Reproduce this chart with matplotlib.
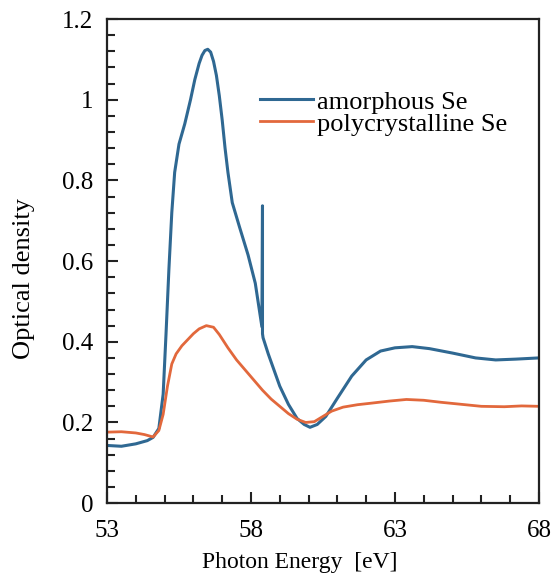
import matplotlib.pyplot as plt
from matplotlib.ticker import MultipleLocator

plt.rcParams["font.family"] = ["Liberation Serif", "DejaVu Serif"]

# amorphous Se
amor_x = [53.0, 53.5, 54.0, 54.4, 54.6, 54.8, 54.95, 55.05, 55.15, 55.25, 55.35, 55.5,
          55.7, 55.9, 56.05, 56.2, 56.3, 56.4, 56.5, 56.6, 56.7, 56.8, 56.9, 57.0,
          57.1, 57.2, 57.35, 57.6, 57.9, 58.15, 58.38, 58.40, 58.40, 58.42, 58.6, 58.8,
          59.0, 59.3, 59.6, 59.85, 60.05, 60.3, 60.6, 61.0, 61.5, 62.0, 62.5, 63.0,
          63.6, 64.2, 65.0, 65.8, 66.5, 67.2, 68.0]
amor_y = [0.143, 0.141, 0.147, 0.155, 0.163, 0.185, 0.27, 0.42, 0.58, 0.72, 0.82, 0.89,
          0.94, 1.0, 1.05, 1.09, 1.11, 1.122, 1.125, 1.118, 1.095, 1.06, 1.01, 0.95,
          0.88, 0.82, 0.745, 0.685, 0.615, 0.545, 0.437, 0.737, 0.42, 0.41, 0.37, 0.33,
          0.29, 0.245, 0.21, 0.195, 0.188, 0.195, 0.215, 0.26, 0.315, 0.355, 0.377, 0.385,
          0.388, 0.383, 0.372, 0.36, 0.355, 0.357, 0.36]

# polycrystalline Se
poly_x = [53.0, 53.5, 54.0, 54.3, 54.6, 54.8, 54.95, 55.1, 55.25, 55.4, 55.6, 55.8,
          56.0, 56.2, 56.45, 56.7, 56.9, 57.2, 57.5, 57.8, 58.1, 58.4, 58.7, 59.0,
          59.3, 59.6, 59.9, 60.2, 60.5, 60.8, 61.2, 61.7, 62.2, 62.8, 63.4, 64.0,
          64.6, 65.3, 66.0, 66.8, 67.4, 68.0]
poly_y = [0.176, 0.177, 0.174, 0.17, 0.164, 0.18, 0.22, 0.29, 0.345, 0.37, 0.39, 0.405,
          0.42, 0.432, 0.44, 0.436, 0.418, 0.385, 0.355, 0.33, 0.305, 0.28, 0.258, 0.24,
          0.222, 0.208, 0.2, 0.202, 0.215, 0.228, 0.238, 0.244, 0.248, 0.253, 0.257, 0.255,
          0.25, 0.245, 0.24, 0.239, 0.241, 0.24]

fig = plt.figure(figsize=(5.53, 5.77), dpi=100)
ax = fig.add_axes([0.1935, 0.128, 0.781, 0.839])

ax.plot(amor_x, amor_y, color="#2f6892", lw=2.2, label="amorphous Se")
ax.plot(poly_x, poly_y, color="#e2683c", lw=2.0, label="polycrystalline Se")

ax.set_xlim(53, 68)
ax.set_ylim(0, 1.2)
ax.set_xticks([53, 58, 63, 68])
ax.set_yticks([0, 0.2, 0.4, 0.6, 0.8, 1.0, 1.2])
ax.set_yticklabels(["0", "0.2", "0.4", "0.6", "0.8", "1", "1.2"])
ax.xaxis.set_minor_locator(MultipleLocator(1))
ax.yaxis.set_minor_locator(MultipleLocator(0.04))
ax.tick_params(which="both", direction="in", top=False, right=False,
               labelsize=18, width=1.5, color="#222222")
ax.tick_params(which="major", length=8)
ax.tick_params(which="minor", length=6)
ax.tick_params(axis="x", which="major", pad=12)
ax.tick_params(axis="y", which="major", pad=10)
for s in ax.spines.values():
    s.set_linewidth(1.6)
    s.set_color("#222222")

ax.set_xlabel("Photon Energy  [eV]", fontsize=17, va="center")
ax.set_ylabel("Optical density", fontsize=19, va="center")
ax.xaxis.set_label_coords(0.447, -0.122)
ax.yaxis.set_label_coords(-0.192, 0.465)

ax.legend(loc="upper left", bbox_to_anchor=(0.33, 0.875), frameon=False,
          fontsize=19, handlelength=2.0, handletextpad=0.15, labelspacing=-0.05,
          borderaxespad=0)

fig.savefig("out.png", dpi=100)
